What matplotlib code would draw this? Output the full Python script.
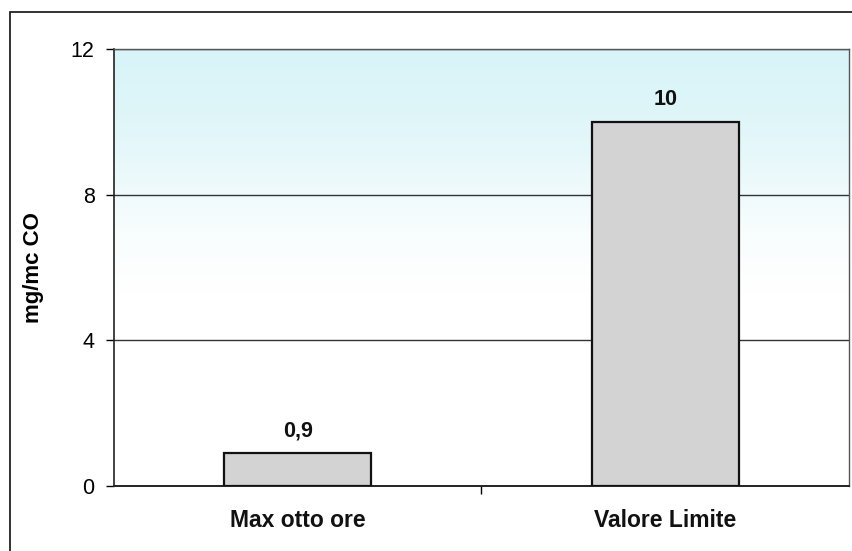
import matplotlib
matplotlib.use("Agg")
import matplotlib.pyplot as plt
import numpy as np
from matplotlib.colors import LinearSegmentedColormap
from matplotlib.patches import Rectangle

categories = ["Max otto ore", "Valore Limite"]
values = [0.9, 10]
value_labels = ["0,9", "10"]
yticks = [0, 4, 8, 12]

W, H = 853, 551
fig = plt.figure(figsize=(W / 100, H / 100), dpi=100)
fig.patch.set_facecolor("white")

FONT = "Liberation Sans"

# outer frame
fig.add_artist(Rectangle((10 / W, -0.1), 1.2, 1 - 12 / H + 0.1, transform=fig.transFigure,
                         fill=False, edgecolor="#222222", linewidth=1.3))

ax = fig.add_axes([114 / W, 1 - 486 / H, (849 - 114) / W, (486 - 49) / H])
ax.set_xlim(0, 2)
ax.set_ylim(0, 12)

# gradient background
cmap = LinearSegmentedColormap.from_list("bg", [(0.0, "#ffffff"), (5.3 / 12, "#ffffff"),
                                               (7.0 / 12, "#f8fdfe"), (8.2 / 12, "#eefafc"),
                                               (10.0 / 12, "#e0f6f9"), (1.0, "#d8f4f8")])
grad = np.linspace(0, 1, 256).reshape(-1, 1)
ax.imshow(grad, aspect="auto", cmap=cmap, extent=[0, 2, 0, 12], origin="lower", zorder=0)

for y in yticks[1:]:
    ax.axhline(y, color="#333333", linewidth=1.0, zorder=1)

x = np.arange(len(categories)) + 0.5
ax.bar(x, values, width=0.4, color="#d3d3d3", edgecolor="#111111", linewidth=1.6, zorder=3)
for xi, v, lab in zip(x, values, value_labels):
    ax.text(xi, v + 0.45, lab, ha="center", va="baseline", fontsize=15.5, fontweight="bold",
            family=FONT, color="#111111")

ax.set_yticks(yticks)
ax.set_yticklabels([str(t) for t in yticks], fontsize=15.5, family=FONT)
ax.set_xticks([1])
ax.set_xticklabels([""])
ax.tick_params(axis="y", direction="out", length=6, width=1, pad=8)
ax.tick_params(axis="x", direction="out", length=6, width=1)
for xi, c in zip(x, categories):
    ax.text(xi, -1.13, c, ha="center", va="baseline", fontsize=16.5, fontweight="bold",
            family=FONT, color="#111111")

ax.set_ylabel("mg/mc CO", fontsize=16, fontweight="bold", family=FONT)
ax.yaxis.set_label_coords(-70 / 735, 0.5)

for side in ["top", "right"]:
    ax.spines[side].set_color("#555555")
    ax.spines[side].set_linewidth(1.0)
ax.spines["left"].set_color("#222222")
ax.spines["bottom"].set_color("#222222")
ax.spines["left"].set_linewidth(1.2)
ax.spines["bottom"].set_linewidth(1.4)

fig.savefig("out.png", dpi=100)
